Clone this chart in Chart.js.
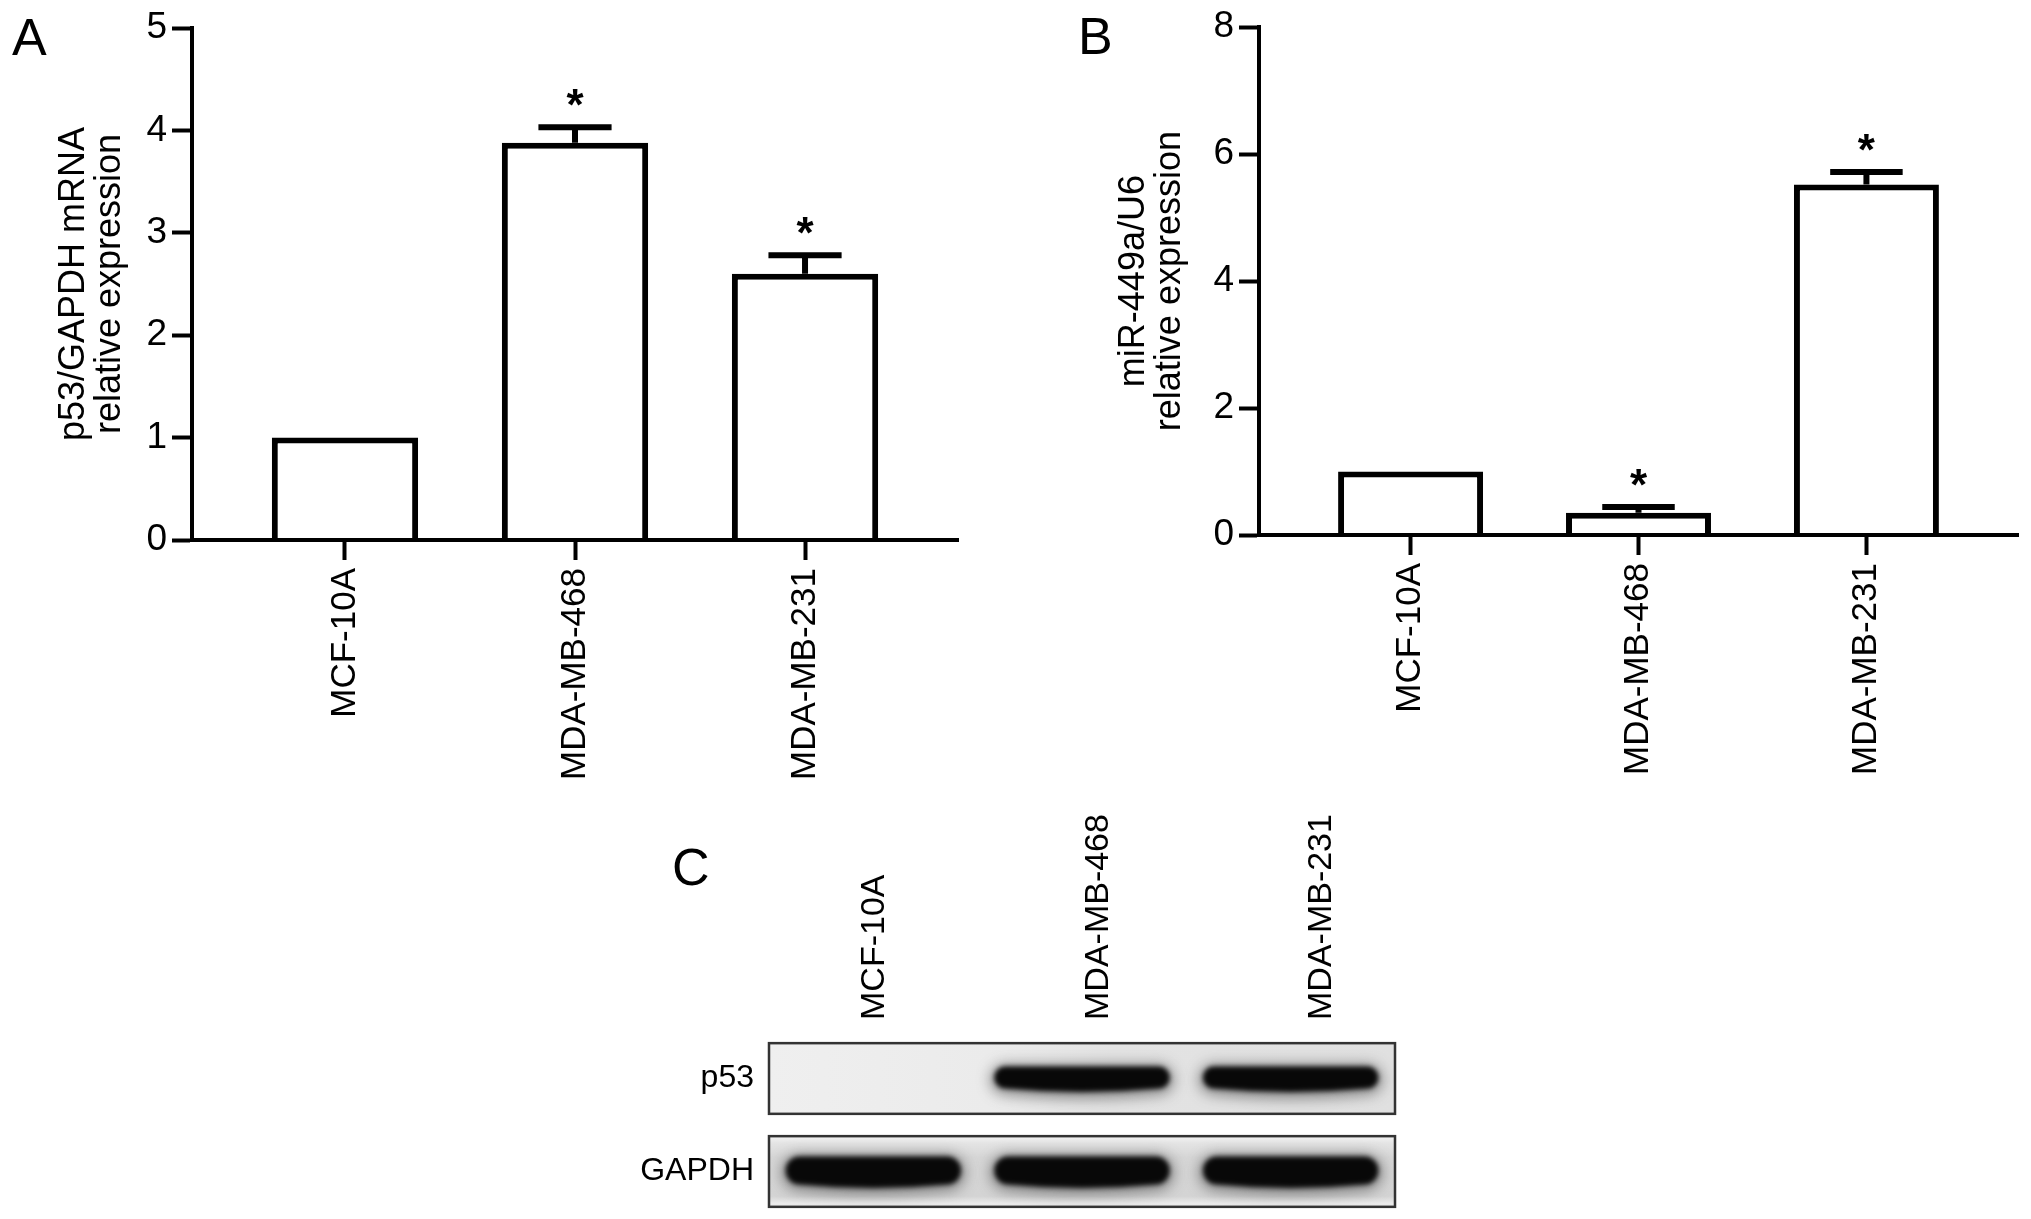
<!DOCTYPE html>
<html>
<head>
<meta charset="utf-8">
<script src="https://cdn.jsdelivr.net/npm/chart.js@4.4.1/dist/chart.umd.min.js"></script>
<style>
  html, body { margin: 0; padding: 0; background: #fff; }
  #page { position: relative; width: 2031px; height: 1219px; overflow: hidden; font-family: "Liberation Sans", Arial, sans-serif; }
  canvas { position: absolute; }
  .letter { position: absolute; font-size: 52px; line-height: 52px; color: #000; }
</style>
</head>
<body>
<div id="page">
  <div class="letter" style="left:12px; top:11px;">A</div>
  <div class="letter" style="left:1078px; top:10px;">B</div>
  <div class="letter" style="left:672px; top:841px;">C</div>
  <canvas id="chartA" width="1000" height="800" style="left:0; top:0;"></canvas>
  <canvas id="chartB" width="1031" height="800" style="left:1000px; top:0;"></canvas>
  <canvas id="chartC" width="831" height="439" style="left:600px; top:780px;"></canvas>
</div>
<script>
// ---- data ----
const cellLines = ['MCF-10A', 'MDA-MB-468', 'MDA-MB-231'];

// panel A: p53 mRNA
const p53mRNA = [1.0, 3.88, 2.6];
const p53mRNAErr = [0, 0.15, 0.18];
const p53mRNAStar = [false, true, true];

// panel B: miR-449a
const mir449a = [1.0, 0.35, 5.52];
const mir449aErr = [0, 0.09, 0.2];
const mir449aStar = [false, true, true];

// panel C: western blot (relative band intensity per lane)
const blotRows = ['p53', 'GAPDH'];
const p53Band = [0, 1, 1];
const gapdhBand = [1, 1, 1];

const FONT = '"Liberation Sans", Arial, sans-serif';

// error bars (up only) + asterisks
const errorBars = {
  id: 'errorBars',
  afterDatasetsDraw(chart, args, opts) {
    const ctx = chart.ctx;
    const y = chart.scales.y;
    const meta = chart.getDatasetMeta(0);
    ctx.save();
    ctx.strokeStyle = '#000';
    ctx.fillStyle = '#000';
    ctx.lineWidth = 6;
    meta.data.forEach((bar, i) => {
      const top = y.getPixelForValue(opts.values[i] + opts.errors[i]);
      if (opts.errors[i] > 0) {
        const half = bar.width / 4;
        ctx.beginPath();
        ctx.moveTo(bar.x, bar.y);
        ctx.lineTo(bar.x, top);
        ctx.moveTo(bar.x - half, top);
        ctx.lineTo(bar.x + half, top);
        ctx.stroke();
      }
      if (opts.stars[i]) {
        ctx.font = 'bold 44px ' + FONT;
        ctx.textAlign = 'center';
        ctx.textBaseline = 'alphabetic';
        ctx.fillText('*', bar.x, top - 30 + 0.52 * 44);
      }
    });
    ctx.restore();
  }
};

function makeBarChart(id, values, errors, stars, yMax, yStep, titleLines, box) {
  return new Chart(document.getElementById(id), {
    type: 'bar',
    data: {
      datasets: [{
        data: cellLines.map((c, i) => ({ x: i + 1, y: values[i] })),
        backgroundColor: '#fff',
        borderColor: '#000',
        borderWidth: 6,
        barPercentage: 0.636,
        categoryPercentage: 1
      }]
    },
    options: {
      responsive: false,
      animation: false,
      events: [],
      layout: { padding: { top: box.top, right: box.right, left: 0, bottom: 0 } },
      plugins: {
        legend: { display: false },
        tooltip: { enabled: false },
        errorBars: { values: values, errors: errors, stars: stars }
      },
      scales: {
        x: {
          type: 'linear',
          min: 0.335,
          max: 3.665,
          offset: false,
          afterBuildTicks: s => { s.ticks = cellLines.map((c, i) => ({ value: i + 1 })); },
          afterFit: s => { s.height = box.xHeight; },
          ticks: {
            autoSkip: false, minRotation: 90, maxRotation: 90, padding: 8, color: '#000',
            font: { size: 35, family: FONT },
            callback: v => cellLines[v - 1]
          },
          grid: { offset: false, drawOnChartArea: false, tickLength: 20, tickWidth: 4, color: '#000' },
          border: { width: 4, color: '#000', z: 1 }
        },
        y: {
          min: 0,
          max: yMax,
          afterFit: s => { s.width = box.yWidth; },
          ticks: { stepSize: yStep, padding: 5, color: '#000', font: { size: 37, family: FONT } },
          grid: { drawOnChartArea: false, tickLength: 20, tickWidth: 4, color: '#000' },
          border: { width: 4, color: '#000', z: 1 },
          title: {
            display: true, text: titleLines, color: '#000',
            font: { size: 36, family: FONT, lineHeight: 1.0 },
            padding: { top: box.titlePad, bottom: 0 }
          }
        }
      }
    },
    plugins: [errorBars]
  });
}

makeBarChart('chartA', p53mRNA, p53mRNAErr, p53mRNAStar, 5, 1,
  ['p53/GAPDH mRNA', 'relative expression'],
  { top: 28, right: 42, xHeight: 260, yWidth: 192, titlePad: 56 });

makeBarChart('chartB', mir449a, mir449aErr, mir449aStar, 8, 2,
  ['miR-449a/U6', 'relative expression'],
  { top: 26, right: 13, xHeight: 265, yWidth: 259, titlePad: 116 });

// ---- panel C: blot drawn on the lane/row scales ----
function bandPath(ctx, cx, cy, w, h, sag) {
  const x0 = cx - w / 2, x1 = cx + w / 2, r = h / 2;
  ctx.beginPath();
  ctx.moveTo(x0 + r, cy - h / 2);
  ctx.lineTo(x1 - r, cy - h / 2);
  ctx.arc(x1 - r, cy, r, -Math.PI / 2, Math.PI / 2);
  ctx.quadraticCurveTo(cx, cy + h / 2 + sag, x0 + r, cy + h / 2);
  ctx.arc(x0 + r, cy, r, Math.PI / 2, Math.PI * 1.5);
  ctx.closePath();
}

const blotPlugin = {
  id: 'blot',
  afterDraw(chart) {
    const { ctx, chartArea } = chart;
    const xs = chart.scales.x, ys = chart.scales.y;
    const laneW = xs.getPixelForValue(2) - xs.getPixelForValue(1);
    const rowH = ys.getPixelForValue(1) - ys.getPixelForValue(0);
    blotRows.forEach((row, r) => {
      const cy = ys.getPixelForValue(r);
      const h = rowH * 0.76;
      const top = cy - h / 2;
      const w = chartArea.right - chartArea.left;
      ctx.save();
      ctx.beginPath();
      ctx.rect(chartArea.left, top, w, h);
      ctx.clip();
      if (r === 0) {
        const g = ctx.createLinearGradient(chartArea.left, 0, chartArea.right, 0);
        g.addColorStop(0, '#efefef');
        g.addColorStop(0.35, '#ebebeb');
        g.addColorStop(0.55, '#e3e3e3');
        g.addColorStop(1, '#e0e0e0');
        ctx.fillStyle = g;
      } else {
        const g = ctx.createLinearGradient(0, top, 0, top + h);
        g.addColorStop(0, '#f4f4f4');
        g.addColorStop(0.1, '#e4e4e4');
        g.addColorStop(0.3, '#d6d6d6');
        g.addColorStop(0.85, '#d4d4d4');
        g.addColorStop(0.95, '#ebebeb');
        g.addColorStop(1, '#e6e6e6');
        ctx.fillStyle = g;
      }
      ctx.fillRect(chartArea.left, top, w, h);
      const bands = r === 0 ? p53Band : gapdhBand;
      const bh = r === 0 ? 22 : 28;
      bands.forEach((v, i) => {
        if (!v) return;
        const cx = xs.getPixelForValue(i + 1);
        const bcy = cy + (r === 0 ? -1 : -1);
        ctx.filter = 'blur(7px)';
        ctx.fillStyle = 'rgba(60,60,60,' + (0.55 * v) + ')';
        bandPath(ctx, cx, bcy + 2, laneW * 0.88, bh + 8, 8);
        ctx.fill();
        ctx.filter = 'blur(2.5px)';
        ctx.fillStyle = 'rgba(8,8,8,' + v + ')';
        bandPath(ctx, cx, bcy, laneW * 0.84, bh, 7);
        ctx.fill();
      });
      ctx.restore();
      ctx.save();
      ctx.strokeStyle = '#333';
      ctx.lineWidth = 2.5;
      ctx.strokeRect(chartArea.left, top, w, h);
      ctx.restore();
    });
  }
};

new Chart(document.getElementById('chartC'), {
  type: 'scatter',
  data: { datasets: [] },
  options: {
    responsive: false,
    animation: false,
    events: [],
    layout: { padding: { top: 0, right: 36, left: 0, bottom: 1 } },
    plugins: { legend: { display: false }, tooltip: { enabled: false } },
    scales: {
      x: { type: 'linear', display: false, min: 0.5, max: 3.5 },
      xl: {
        type: 'linear',
        axis: 'x',
        position: 'top',
        min: 0.343,
        max: 3.144,
        afterBuildTicks: s => { s.ticks = cellLines.map((c, i) => ({ value: i + 1 })); },
        afterFit: s => { s.height = 252; },
        ticks: {
          autoSkip: false, minRotation: 90, maxRotation: 90, padding: 12, color: '#000',
          font: { size: 34, family: FONT },
          callback: v => cellLines[v - 1]
        },
        grid: { display: false, drawTicks: false },
        border: { display: false }
      },
      y: {
        type: 'category',
        labels: blotRows,
        offset: true,
        afterFit: s => { s.width = 169; s.paddingTop = 0; s.paddingBottom = 0; },
        ticks: { padding: 15, color: '#000', font: { size: 32, family: FONT } },
        grid: { display: false, drawTicks: false },
        border: { display: false }
      }
    }
  },
  plugins: [blotPlugin]
});
</script>
</body>
</html>
